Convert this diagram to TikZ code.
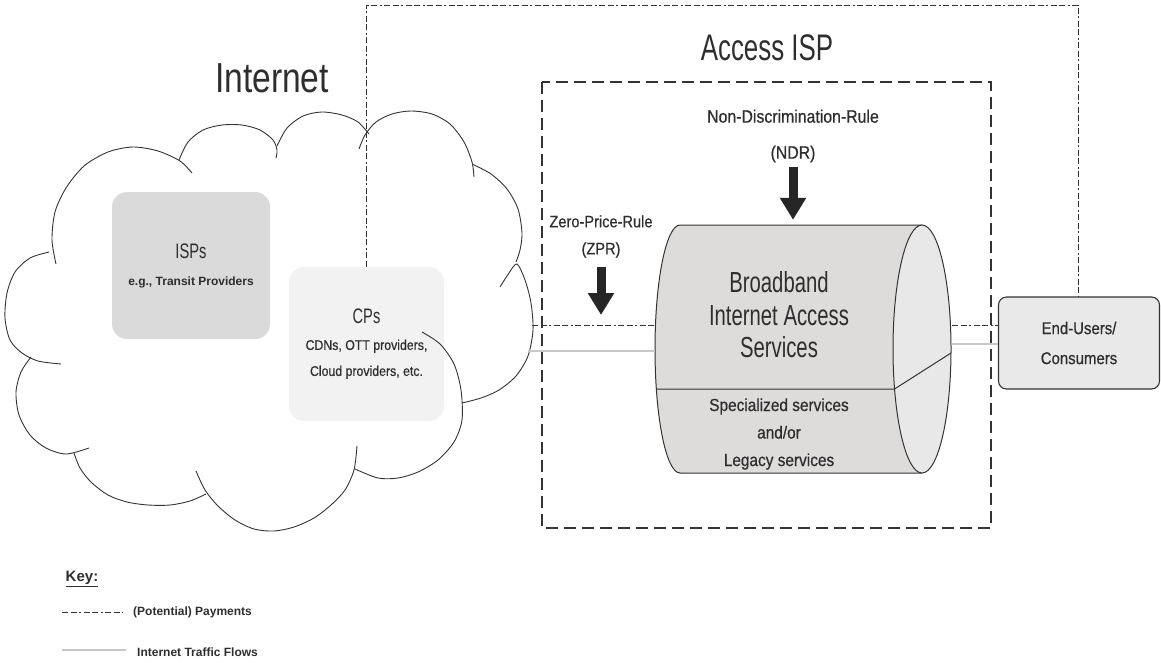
\documentclass[tikz,border=0pt]{standalone}
\usepackage{fontspec}
\setmainfont{Liberation Sans}
\newfontfamily\fA[FakeStretch=0.8]{Liberation Sans}
\newfontfamily\fB[FakeStretch=0.7]{Liberation Sans}
\newfontfamily\fC[FakeStretch=0.88,FakeBold=0.6]{Liberation Sans}
\usetikzlibrary{arrows.meta}
\definecolor{ink}{HTML}{333333}
\definecolor{txtc}{HTML}{2E2E2E}
\definecolor{traf}{HTML}{C8C8C8}
\definecolor{ispfill}{HTML}{DADADA}
\definecolor{cpfill}{HTML}{F2F2F2}
\definecolor{eufill}{HTML}{E9E9E9}
\definecolor{cylbody}{HTML}{DEDBDB}
\definecolor{cylend}{HTML}{E8E8E8}
\definecolor{arrc}{HTML}{262626}
\begin{document}
\begin{tikzpicture}[x=1pt,y=-1pt,
  pay/.style={draw=ink, line width=0.9pt, dash pattern=on 6pt off 2.5pt on 6pt off 2.5pt on 2pt off 2.5pt},
  traffic/.style={draw=traf, line width=1.4pt},
  accbox/.style={draw=ink, line width=1.6pt, dash pattern=on 12pt off 6pt},
  cloudline/.style={draw=ink, line width=0.9pt},
  txt/.style={text=txtc, inner sep=0pt, align=center},
  boxnode/.style={txt, rounded corners=15pt, minimum width=#1},
  rulearrow/.style={draw=arrc, line width=9pt, -{Triangle[width=25pt,length=22pt]}},
  cylline/.style={draw=ink, line width=1pt}
]
\useasboundingbox (0,0) rectangle (1161,662);

% titles
\node[txt, font=\fA\fontsize{42}{48}\selectfont] (tInternet) at (272,78) {Internet};
\node[txt, font=\fB\fontsize{37}{42}\selectfont] (tAccess) at (767,48) {Access ISP};

% Access ISP box
\draw[accbox] (542,82) rectangle (991,528);

% boxes inside the cloud
\node[boxnode=158pt, fill=ispfill, minimum height=147pt,
      font=\bfseries\fontsize{12}{27}\selectfont] (isps) at (191,265.5)
  {{\fB\mdseries\fontsize{21}{24}\selectfont ISPs}\\e.g., Transit Providers};
\node[boxnode=155pt, fill=cpfill, minimum height=154pt,
      font=\fC\fontsize{14}{26}\selectfont] (cps) at (366.5,344)
  {{\fB\fontsize{21}{24}\selectfont CPs}\\CDNs, OTT providers,\\Cloud providers, etc.};

% cloud outline
\draw[cloudline] plot[smooth] coordinates {(56,264) (52,240) (55,212) (66,188) (84,166) (108,152) (133,147) (158,151) (180,161) (192,173)};
\draw[cloudline] plot[smooth] coordinates {(179,160) (188,142) (203,130) (222,125) (242,125) (260,130) (273,140) (277,150) (276,158)};
\draw[cloudline] plot[smooth] coordinates {(277,146) (287,128) (303,116) (322,112) (342,115) (358,122) (369,134)};
\draw[cloudline] plot[smooth] coordinates {(359,149) (365,135) (376,122) (392,114) (411,111) (432,114) (450,124) (464,142) (472,162) (474,177)};
\draw[cloudline] plot[smooth] coordinates {(472,164) (491,174) (507,189) (518,209) (522,233) (520,250) (516,262)};
\draw[cloudline] plot[smooth] coordinates {(500,287) (509,273) (517,264) (525,280) (531,303) (533,330) (528,356) (516,376) (499,390) (481,398) (462,403)};
\draw[cloudline] plot[smooth] coordinates {(422,332) (440,344) (454,364) (461,390) (462,420) (454,442) (438,460) (418,472) (398,478) (378,478) (355,469)};
\draw[cloudline] plot[smooth] coordinates {(357,446) (354,470) (345,490) (331,505) (314,518) (294,527) (274,531) (254,529) (235,520) (218,506) (205,490) (196,471)};
\draw[cloudline] plot[smooth] coordinates {(206,494) (190,501) (170,505) (148,505) (127,502) (108,495) (91,482) (80,468) (74,453)};
\draw[cloudline] plot[smooth] coordinates {(31,357) (21,372) (16,392) (19,415) (30,435) (46,448) (66,454) (89,448)};
\draw[cloudline] plot[smooth] coordinates {(49,252) (30,258) (15,272) (7,293) (5,318) (10,340) (22,353) (38,361) (61,364)};

% cylinder
\node[inner sep=0pt, minimum width=297pt, minimum height=248pt] (cyl) at (803.5,349) {};
\fill[cylbody] (922,225) -- (680,225) arc[start angle=90, end angle=270, x radius=25pt, y radius=124pt] -- (922,473) -- cycle;
\draw[cylline] (922,225) -- (680,225) arc[start angle=90, end angle=270, x radius=25pt, y radius=124pt] -- (922,473);
\draw[cylline, fill=cylend] (922,349) ellipse[x radius=29pt, y radius=124pt];
\draw[cylline] (656,389) -- (894.5,389) -- (951,353);
\node[txt, font=\fB\fontsize{29}{32.5}\selectfont] (bias) at (779,315) {Broadband\\Internet Access\\Services};
\node[txt, font=\fC\fontsize{17.5}{27.5}\selectfont] (spec) at (779,434) {Specialized services\\and/or\\Legacy services};

% end users
\node[txt, draw=ink, line width=1.1pt, fill=eufill, rounded corners=8pt,
      minimum width=161pt, minimum height=92pt,
      font=\fC\fontsize{17}{30}\selectfont] (eu) at (1079,343) {End-Users/\\Consumers};

% rules
\node[txt, font=\fC\fontsize{18}{36}\selectfont] (ndr) at (793,136) {Non-Discrimination-Rule\\(NDR)};
\node[txt, font=\fC\fontsize{16.6}{27}\selectfont] (zpr) at (601,236.5) {Zero-Price-Rule\\(ZPR)};

% connectors: payments
\coordinate (payTop) at (1078,5);
\draw[pay] (cps.north) |- (payTop) -- (payTop |- eu.north);
\coordinate (cloudP) at (532,325);
\draw[pay] (cloudP) -- (cloudP -| cyl.west);
\coordinate (cylP) at (952,325);
\draw[pay] (cylP) -- (cylP -| eu.west);
% connectors: traffic
\coordinate (cloudT) at (528,351);
\draw[traffic] (cloudT) -- (cloudT -| cyl.west);
\coordinate (cylT) at (952,344);
\draw[traffic] (cylT) -- (cylT -| eu.west);

% rule arrows
\coordinate (zprT) at (601,325);
\draw[rulearrow, shorten <=9pt, shorten >=10pt] (zpr.south) -- (zprT);
\draw[rulearrow, shorten <=4pt, shorten >=5pt] (ndr.south) -- (ndr.south |- cyl.north);

% key
\node[txt, font=\bfseries\fontsize{15}{18}\selectfont] (key) at (82,579) {\underline{Key:}};
\coordinate (k1a) at (62,612);
\coordinate (k1b) at (123,612);
\draw[pay] (k1a) -- (k1b);
\node[txt, anchor=west, font=\bfseries\fontsize{12}{14}\selectfont] (kpay) at (133,612) {(Potential) Payments};
\coordinate (k2a) at (62,650);
\coordinate (k2b) at (126,650);
\draw[traffic] (k2a) -- (k2b);
\node[txt, anchor=west, font=\bfseries\fontsize{12}{14}\selectfont] (ktraf) at (137,652) {Internet Traffic Flows};
\end{tikzpicture}
\end{document}
